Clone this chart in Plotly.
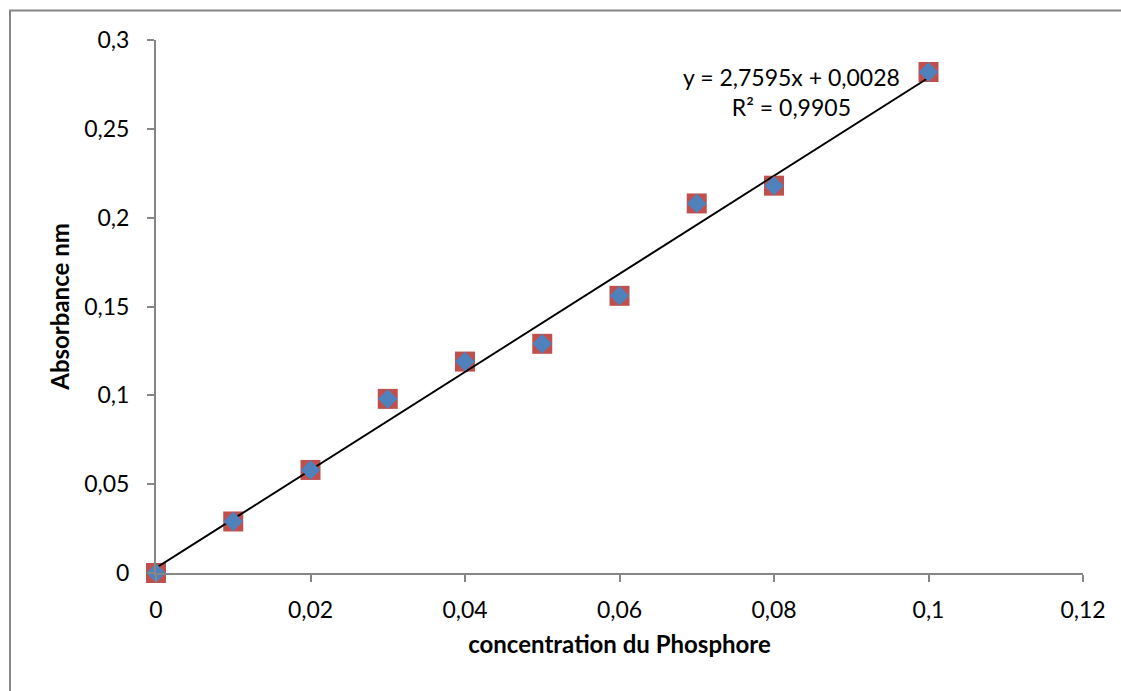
import plotly.graph_objects as go

# Calibration data: phosphorus concentration vs absorbance
concentration = [0, 0.01, 0.02, 0.03, 0.04, 0.05, 0.06, 0.07, 0.08, 0.1]
absorbance = [0, 0.029, 0.058, 0.098, 0.119, 0.129, 0.156, 0.208, 0.218, 0.282]

# Linear trendline coefficients
slope = 2.7595
intercept = 0.0028
r_squared = 0.9905

x_ticks = [0, 0.02, 0.04, 0.06, 0.08, 0.1, 0.12]
x_tick_text = ["0", "0,02", "0,04", "0,06", "0,08", "0,1", "0,12"]
y_ticks = [0, 0.05, 0.1, 0.15, 0.2, 0.25, 0.3]
y_tick_text = ["0", "0,05", "0,1", "0,15", "0,2", "0,25", "0,3"]

FONT = "Lato"
AXIS_GREY = "#868686"

fig = go.Figure()

# Red squares (first series)
fig.add_trace(go.Scatter(
    x=concentration, y=absorbance, mode="markers",
    marker=dict(symbol="square", size=20, color="#C0504D",
                line=dict(width=0)),
    cliponaxis=False, showlegend=False,
))

# Trendline
line_x = [concentration[0], concentration[-1]]
line_y = [slope * v + intercept for v in line_x]
fig.add_trace(go.Scatter(
    x=line_x, y=line_y, mode="lines",
    line=dict(color="black", width=2),
    cliponaxis=False, showlegend=False,
))

# Blue diamonds (second series)
fig.add_trace(go.Scatter(
    x=concentration, y=absorbance, mode="markers",
    marker=dict(symbol="diamond", size=15, color="#4F81BD",
                line=dict(width=0)),
    cliponaxis=False, showlegend=False,
))

fmt = lambda v, d: f"{v:.{d}f}".replace(".", ",")
eq_text = (f"y = {fmt(slope, 4)}x + {fmt(intercept, 4)}<br>"
           f"R² = {fmt(r_squared, 4)}")

fig.add_annotation(
    x=0.0822, y=0.2705, xref="x", yref="y",
    text=eq_text, showarrow=False, align="center",
    font=dict(family=FONT, size=23, color="black"),
)

# Outer chart frame
plot_l, plot_r, plot_t, plot_b = 156, 1083, 40, 573
pw, ph = plot_r - plot_l, plot_b - plot_t
fig.add_shape(
    type="rect", xref="paper", yref="paper",
    x0=(10 - plot_l) / pw, x1=(1200 - plot_l) / pw,
    y0=(plot_b - 800) / ph, y1=(plot_b - 10.5) / ph,
    line=dict(color=AXIS_GREY, width=2), fillcolor="rgba(0,0,0,0)",
    layer="below",
)

axis_common = dict(
    showgrid=False, zeroline=False, showline=True,
    linecolor=AXIS_GREY, linewidth=2,
    ticks="outside", ticklen=7, tickwidth=2, tickcolor=AXIS_GREY,
    tickfont=dict(family=FONT, size=23, color="black"),
)

fig.update_xaxes(
    range=[0, 0.12], tickvals=x_ticks, ticktext=x_tick_text,
    ticklabelstandoff=8,
    title=dict(text="<b>concentration du Phosphore</b>",
               font=dict(family=FONT, size=24, color="black"), standoff=15),
    **axis_common,
)
fig.update_yaxes(
    range=[0, 0.3], tickvals=y_ticks, ticktext=y_tick_text,
    ticklabelstandoff=13,
    title=dict(text="<b>Absorbance nm</b>",
               font=dict(family=FONT, size=24, color="black"), standoff=8),
    **axis_common,
)

fig.update_layout(
    width=1121, height=691,
    margin=dict(l=plot_l, r=1121 - plot_r, t=plot_t, b=691 - plot_b),
    paper_bgcolor="white", plot_bgcolor="white",
)

fig.write_html("out.html")
